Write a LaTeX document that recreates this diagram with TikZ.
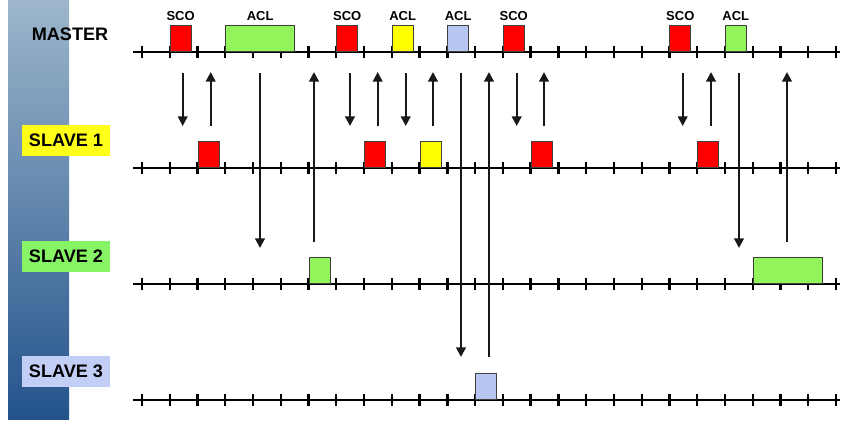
\documentclass[tikz,border=0pt]{standalone}
\usepackage{fontspec}
\setmainfont{Liberation Sans}
\usetikzlibrary{positioning,arrows.meta}
\definecolor{scored}{HTML}{FF0000}
\definecolor{aclgreen}{HTML}{92F55A}
\definecolor{aclyellow}{HTML}{FFFF00}
\definecolor{aclblue}{HTML}{B8C6F2}
\definecolor{bartop}{HTML}{9DB6CB}
\definecolor{barbot}{HTML}{23538C}
\definecolor{tagyellow}{HTML}{FFFF1A}
\definecolor{taggreen}{HTML}{86F464}
\definecolor{tagblue}{HTML}{C2CEF6}
\tikzset{
timeline/.pic={
  \draw[line width=1.4pt] (133,0) -- (840,0);
  \foreach \i in {0,...,25}
    \draw[line width=1.3pt] ({142+27.76*\i},-6) -- ({142+27.76*\i},6);
  },
pkt/.style={draw=black!75, line width=0.4pt, minimum width=0.42cm,
  minimum height=0.52cm, inner sep=0pt, anchor=south west},
longpkt/.style={pkt, minimum width=1.38cm},
kind/.style={font=\bfseries\fontsize{7.4}{8}\selectfont, inner sep=1pt, above=1.5pt},
who/.style={font=\bfseries\fontsize{10.3}{12}\selectfont, inner sep=0pt,
  minimum width=1.76cm, minimum height=0.62cm},
sig/.style={line width=1.15pt, color=black!90, -{Triangle[length=5.5pt,width=5.5pt]}}
}
\begin{document}
\begin{tikzpicture}[x=0.02cm, y=-0.02cm]
  \useasboundingbox (0,0) rectangle (850,426);
  \shade[top color=bartop, bottom color=barbot] (8,0) rectangle (69,419);
  % station names
  \node[who] (master) at (70,34) {MASTER};
  \node[who, fill=tagyellow] (slave1) at (66,140.5) {SLAVE 1};
  \node[who, fill=taggreen] (slave2) at (66,256.5) {SLAVE 2};
  \node[who, fill=tagblue] (slave3) at (66,371.5) {SLAVE 3};
  % time axes
  \pic at (0,52) {timeline};
  \pic at (0,168) {timeline};
  \pic at (0,284) {timeline};
  \pic at (0,400) {timeline};
  % master packets
  \node[pkt, fill=scored] (m1) at (169.76,52) {};
  \node[longpkt, fill=aclgreen] (m2) at (225.28,52) {};
  \node[pkt, fill=scored] (m3) at (336.32,52) {};
  \node[pkt, fill=aclyellow] (m4) at (391.84,52) {};
  \node[pkt, fill=aclblue] (m5) at (447.36,52) {};
  \node[pkt, fill=scored] (m6) at (502.88,52) {};
  \node[pkt, fill=scored] (m7) at (669.44,52) {};
  \node[pkt, fill=aclgreen] (m8) at (724.96,52) {};
  \node[kind] at (m1.north) {SCO};
  \node[kind] at (m2.north) {ACL};
  \node[kind] at (m3.north) {SCO};
  \node[kind] at (m4.north) {ACL};
  \node[kind] at (m5.north) {ACL};
  \node[kind] at (m6.north) {SCO};
  \node[kind] at (m7.north) {SCO};
  \node[kind] at (m8.north) {ACL};
  % slave packets
  \node[pkt, fill=scored] (s1a) at (197.52,168) {};
  \node[pkt, fill=scored] (s1b) at (364.08,168) {};
  \node[pkt, fill=aclyellow] (s1c) at (419.6,168) {};
  \node[pkt, fill=scored] (s1d) at (530.64,168) {};
  \node[pkt, fill=scored] (s1e) at (697.2,168) {};
  \node[pkt, fill=aclgreen] (s2a) at (308.56,284) {};
  \node[longpkt, fill=aclgreen] (s2b) at (752.72,284) {};
  \node[pkt, fill=aclblue] (s3a) at (475.12,400) {};
  % master to slave
  \foreach \x/\e [count=\k] in {182.7/126, 260/248, 350/126, 405.7/126,
      461/357, 516.7/126, 682.7/126, 739/248} {
    \coordinate (dn\k a) at (\x,73);
    \coordinate (dn\k b) at (\x,\e);
    \draw[sig] (dn\k a) -- (dn\k b);
  }
  % slave to master
  \foreach \x/\s [count=\k] in {210.7/126, 314/242, 377.7/126, 433/126,
      489/357, 544/126, 711/126, 787/242} {
    \coordinate (up\k a) at (\x,\s);
    \coordinate (up\k b) at (\x,72);
    \draw[sig] (up\k a) -- (up\k b);
  }
\end{tikzpicture}
\end{document}
